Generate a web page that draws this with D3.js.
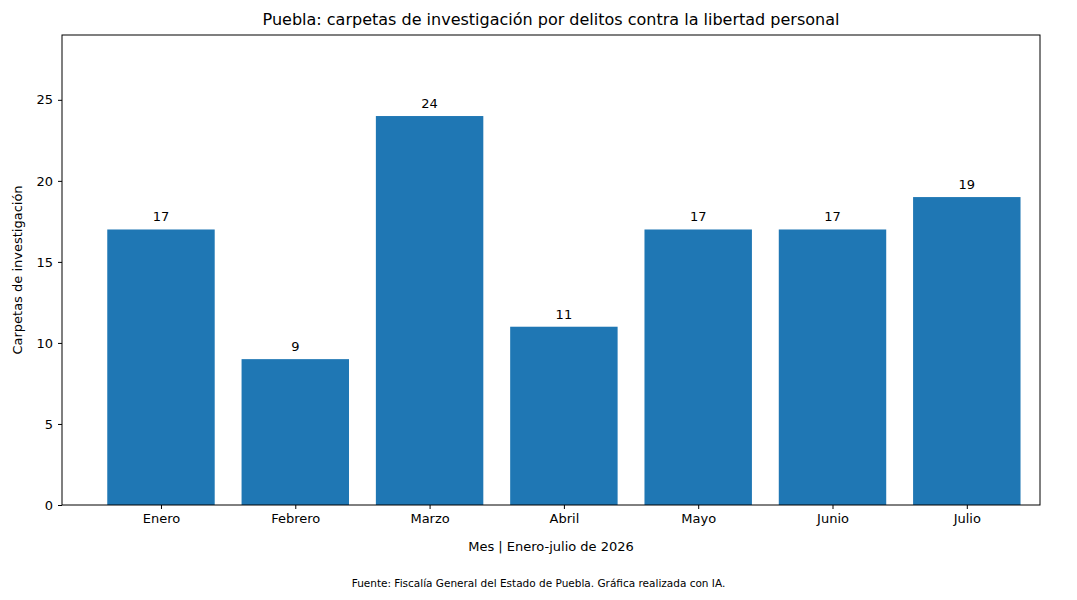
<!DOCTYPE html>
<html><head><meta charset="utf-8">
<script src="https://cdn.jsdelivr.net/npm/d3@7"></script>
<style>body{margin:0;background:#fff}text{font-family:"DejaVu Sans",sans-serif}</style>
</head><body><div id="chart"></div>
<script>
const months = ["Enero","Febrero","Marzo","Abril","Mayo","Junio","Julio"];
const values = [17, 9, 24, 11, 17, 17, 19];
const yTicks = [0, 5, 10, 15, 20, 25];

const W = 1077, H = 600;
const m = {left: 62, right: 37, top: 35, bottom: 95};
const svg = d3.select("#chart").append("svg").attr("width", W).attr("height", H);

const x = d3.scaleLinear().domain([-0.737, 6.545]).range([m.left, W - m.right]);
const y = d3.scaleLinear().domain([0, 29]).range([H - m.bottom, m.top]);
const bw = x(0.8) - x(0);

svg.selectAll("rect.bar").data(values).enter().append("rect")
    .attr("x", (d, i) => x(i) - bw / 2)
    .attr("y", d => y(d))
    .attr("width", bw)
    .attr("height", d => y(0) - y(d))
    .attr("fill", "#1f77b4");

svg.selectAll("text.lbl").data(values).enter().append("text")
    .attr("x", (d, i) => x(i)).attr("y", d => y(d) - 8)
    .attr("text-anchor", "middle").attr("font-size", 13).text(d => d);

// frame
svg.append("rect").attr("x", m.left).attr("y", m.top)
    .attr("width", W - m.left - m.right).attr("height", H - m.top - m.bottom)
    .attr("fill", "none").attr("stroke", "#000").attr("stroke-width", 1);

const yAxis = svg.append("g").attr("transform", `translate(${m.left},0)`)
    .call(d3.axisLeft(y).tickValues(yTicks).tickSize(4).tickPadding(5));
yAxis.select(".domain").remove();
yAxis.selectAll("text").attr("font-size", 13).attr("font-family", "DejaVu Sans");

const xAxis = svg.append("g").attr("transform", `translate(0,${H - m.bottom})`)
    .call(d3.axisBottom(x).tickValues(d3.range(months.length)).tickFormat(i => months[i]).tickSize(4).tickPadding(5));
xAxis.select(".domain").remove();
xAxis.selectAll("text").attr("font-size", 13).attr("font-family", "DejaVu Sans");

svg.append("text").attr("x", (m.left + W - m.right) / 2).attr("y", 25)
    .attr("text-anchor", "middle").attr("font-size", 16)
    .text("Puebla: carpetas de investigación por delitos contra la libertad personal");
svg.append("text").attr("x", (m.left + W - m.right) / 2).attr("y", 551)
    .attr("text-anchor", "middle").attr("font-size", 13).text("Mes | Enero-julio de 2026");
svg.append("text").attr("transform", `translate(22,${(m.top + H - m.bottom) / 2}) rotate(-90)`)
    .attr("text-anchor", "middle").attr("font-size", 13).text("Carpetas de investigación");
svg.append("text").attr("x", W / 2).attr("y", 587)
    .attr("text-anchor", "middle").attr("font-size", 10.5)
    .text("Fuente: Fiscalía General del Estado de Puebla. Gráfica realizada con IA.");
</script></body></html>
